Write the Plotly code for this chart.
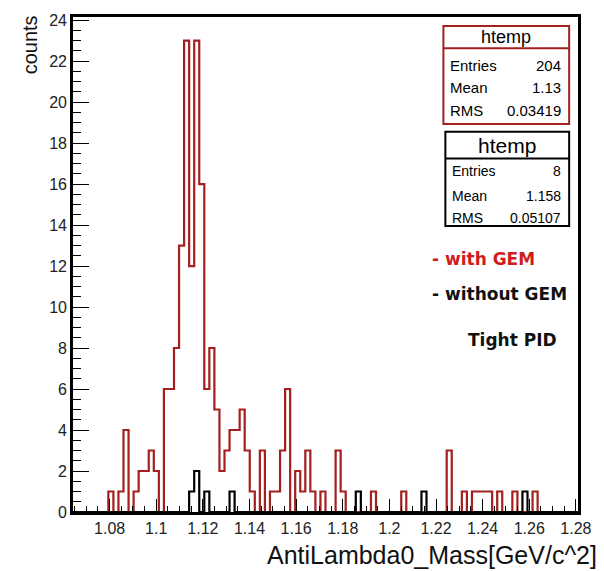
import plotly.graph_objects as go

# Histogram binning (ROOT htemp: 100 bins)
x_min = 1.0643
bin_width = 0.002166
n_bins = 100

# Bin contents, AntiLambda0 mass, with GEM (red) -- indexed by bin
with_gem_bins = [7, 9, 10, 12, 13, 14, 15, 16,
                 18, 19, 20, 21, 22, 23, 24, 25,
                 26, 27, 28, 29, 30, 31, 32, 33, 34, 35,
                 37, 39, 40, 41, 42, 44, 45, 46, 47, 49, 52, 53,
                 59, 65, 74, 77, 79, 80, 81, 82, 84, 87, 91]
with_gem_counts = [1, 1, 4, 1, 2, 2, 3, 2,
                   6, 6, 8, 13, 23, 12, 23, 16,
                   6, 8, 5, 2, 3, 4, 4, 5, 3, 1,
                   3, 1, 1, 3, 6, 2, 1, 3, 1, 1, 3, 1,
                   1, 1, 3, 1, 1, 1, 1, 1, 1, 1, 1]

# Bin contents, without GEM (black)
without_gem_bins = [23, 24, 26, 31, 56, 69, 89]
without_gem_counts = [1, 2, 1, 1, 1, 1, 1]

# Axis ticks
x_tick_vals = [1.08, 1.10, 1.12, 1.14, 1.16, 1.18, 1.20, 1.22, 1.24, 1.26, 1.28]
x_tick_text = ["1.08", "1.1", "1.12", "1.14", "1.16", "1.18", "1.2", "1.22", "1.24", "1.26", "1.28"]
y_tick_vals = [0, 2, 4, 6, 8, 10, 12, 14, 16, 18, 20, 22, 24]
y_tick_text = [str(v) for v in y_tick_vals]

# Stat box contents
stats_with = [("Entries", "204"), ("Mean", "1.13"), ("RMS", "0.03419")]
stats_without = [("Entries", "8"), ("Mean", "1.158"), ("RMS", "0.05107")]

RED_LINE = "#a3201f"
RED_TEXT = "#d01c1c"
FONT = "Liberation Sans"

# Figure geometry in pixels
W, H = 604, 571
L, R, T, B = 73, 587, 12, 512


def px(x):
    return (x - L) / (R - L)


def py(y):
    return (B - y) / (B - T)


def step_outline(bins, counts):
    full = [0] * n_bins
    for b, c in zip(bins, counts):
        full[b] = c
    xs = [x_min + i * bin_width for i in range(n_bins + 1)]
    ys = full + [full[-1]]
    return xs, ys


fig = go.Figure()

xs, ys = step_outline(with_gem_bins, with_gem_counts)
fig.add_trace(go.Scatter(x=xs, y=ys, mode="lines", line=dict(shape="hv", color=RED_LINE, width=2.2),
                         hoverinfo="skip", showlegend=False))
xs, ys = step_outline(without_gem_bins, without_gem_counts)
fig.add_trace(go.Scatter(x=xs, y=ys, mode="lines", line=dict(shape="hv", color="black", width=2.2),
                         hoverinfo="skip", showlegend=False))

fig.update_layout(
    width=W, height=H,
    margin=dict(l=L, r=W - R, t=T, b=H - B, pad=0),
    paper_bgcolor="white", plot_bgcolor="white",
    font=dict(family=FONT, color="black"),
    showlegend=False,
    xaxis=dict(range=[x_min, x_min + n_bins * bin_width], showgrid=False, zeroline=False,
               showline=True, linecolor="black", linewidth=2.6, mirror=True,
               ticks="inside", ticklen=13, tickwidth=1.3, tickcolor="black",
               tickmode="array", tickvals=x_tick_vals, ticktext=x_tick_text,
               tickfont=dict(size=16, family=FONT, color="#222"),
               minor=dict(ticks="inside", ticklen=6, tick0=1.0, dtick=0.005, tickcolor="black", tickwidth=1.2)),
    yaxis=dict(range=[0, 24.15], showgrid=False, zeroline=False,
               showline=True, linecolor="black", linewidth=2.6, mirror=True,
               ticks="inside", ticklen=16, tickwidth=1.3, tickcolor="black",
               tickmode="array", tickvals=y_tick_vals, ticktext=y_tick_text,
               tickfont=dict(size=16, family=FONT, color="#222"),
               minor=dict(ticks="inside", ticklen=8, tick0=0, dtick=0.5, tickcolor="black", tickwidth=1.2)),
)

shapes = []
annotations = []

# Axis titles
annotations.append(dict(text="AntiLambda0_Mass[GeV/c^2]", x=px(608), y=py(555), xref="paper", yref="paper",
                        xanchor="right", yanchor="middle", showarrow=False,
                        font=dict(size=25, family=FONT, color="#111")))
annotations.append(dict(text="counts", x=px(29), y=py(8), xref="paper", yref="paper", textangle=-90,
                        xanchor="center", yanchor="top", showarrow=False,
                        font=dict(size=20, family=FONT, color="#111")))


def stat_box(x0, x1, y0, y1, ysep, title_y, title_size, rows, row_ys, row_size, color):
    shapes.append(dict(type="rect", xref="paper", yref="paper", x0=px(x0), x1=px(x1), y0=py(y0), y1=py(y1),
                       line=dict(color=color, width=2), fillcolor="white", layer="above"))
    shapes.append(dict(type="line", xref="paper", yref="paper", x0=px(x0), x1=px(x1), y0=py(ysep), y1=py(ysep),
                       line=dict(color=color, width=2), layer="above"))
    annotations.append(dict(text="htemp", x=px((x0 + x1) / 2), y=py(title_y), xref="paper", yref="paper",
                            xanchor="center", yanchor="middle", showarrow=False,
                            font=dict(size=title_size, family=FONT, color="black")))
    for (lab, val), ry in zip(rows, row_ys):
        annotations.append(dict(text=lab, x=px(x0 + 5), y=py(ry), xref="paper", yref="paper",
                                xanchor="left", yanchor="middle", showarrow=False,
                                font=dict(size=row_size, family=FONT, color="black")))
        annotations.append(dict(text=val, x=px(x1 - 6), y=py(ry), xref="paper", yref="paper",
                                xanchor="right", yanchor="middle", showarrow=False,
                                font=dict(size=row_size, family=FONT, color="black")))


stat_box(450, 578, 21, 120, 43.5, 32.5, 18, stats_with, [61, 83, 106], 15, RED_LINE)
stat_box(452, 578, 128, 223, 155, 141.5, 21, stats_without, [168, 193, 215], 14, "black")

# Legend-style labels
annotations.append(dict(text="- with GEM", x=px(436), y=py(256), xref="paper", yref="paper",
                        xanchor="left", yanchor="middle", showarrow=False,
                        font=dict(size=17, family="DejaVu Sans", color=RED_TEXT, weight="bold")))
annotations.append(dict(text="- without GEM", x=px(436), y=py(292), xref="paper", yref="paper",
                        xanchor="left", yanchor="middle", showarrow=False,
                        font=dict(size=17, family="DejaVu Sans", color="#111", weight="bold")))
annotations.append(dict(text="Tight PID", x=px(473), y=py(338), xref="paper", yref="paper",
                        xanchor="left", yanchor="middle", showarrow=False,
                        font=dict(size=17, family="DejaVu Sans", color="#111", weight="bold")))

fig.update_layout(shapes=shapes, annotations=annotations)
fig.write_html("out.html")
